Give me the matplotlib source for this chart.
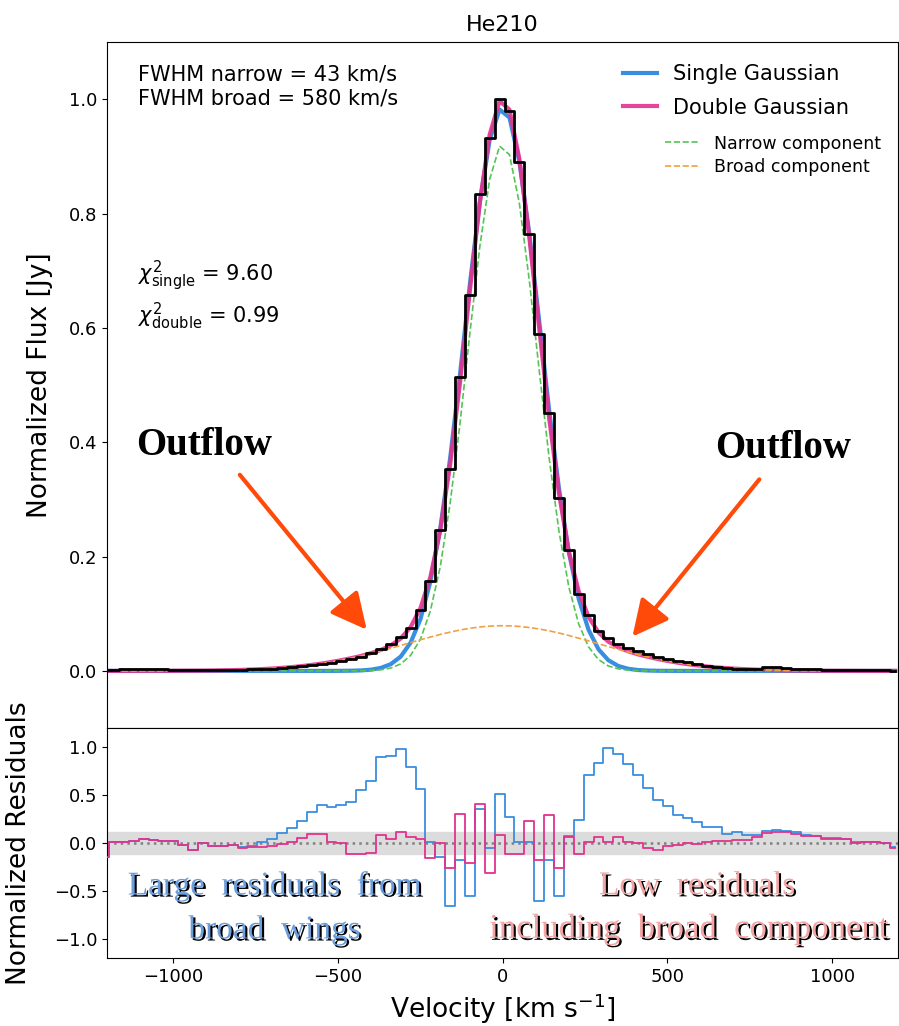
import numpy as np
import matplotlib
matplotlib.use("Agg")
import matplotlib.pyplot as plt
import matplotlib.patheffects as pe

# velocity bin centres (km/s), 30 km/s channels
vel = np.arange(-1209, 1192, 30)

# observed, normalized line profile
flux = [0.002, 0.002, 0.003, 0.003, 0.003, 0.003, 0.003, 0.002, 0.002, 0.001,
        0.002, 0.002, 0.002, 0.002, 0.002, 0.003, 0.003, 0.004, 0.005, 0.006,
        0.008, 0.010, 0.012, 0.014, 0.017, 0.021, 0.025, 0.031, 0.039, 0.047,
        0.060, 0.075, 0.107, 0.157, 0.247, 0.353, 0.514, 0.658, 0.835, 0.932,
        1.000, 0.979, 0.891, 0.764, 0.589, 0.451, 0.302, 0.212, 0.135, 0.097,
        0.070, 0.057, 0.047, 0.040, 0.034, 0.029, 0.025, 0.021, 0.018, 0.015,
        0.012, 0.009, 0.007, 0.005, 0.004, 0.003, 0.004, 0.006, 0.006, 0.005,
        0.004, 0.003, 0.003, 0.002, 0.002, 0.002, 0.001, 0.001, 0.001, 0.001,
        0.000]

# single gaussian fit, sampled on the bins
single = [0, 0, 0, 0, 0, 0, 0, 0, 0, 0,
          0, 0, 0, 0, 0, 0, 0, 0, 0, 0,
          0, 0, 0, 0, 0.0001, 0.0003, 0.0008, 0.0021, 0.0052, 0.0118,
          0.0250, 0.0493, 0.0906, 0.156, 0.249, 0.372, 0.519, 0.677, 0.820, 0.929,
          0.982, 0.968, 0.891, 0.766, 0.613, 0.458, 0.320, 0.208, 0.126, 0.0718,
          0.0378, 0.0187, 0.0086, 0.0037, 0.0015, 0.0006, 0.0002, 0.0001, 0, 0,
          0, 0, 0, 0, 0, 0, 0, 0, 0, 0,
          0, 0, 0, 0, 0, 0, 0, 0, 0, 0,
          0]

# narrow component of the double fit
narrow = [0, 0, 0, 0, 0, 0, 0, 0, 0, 0,
          0, 0, 0, 0, 0, 0, 0, 0, 0, 0,
          0, 0, 0, 0, 0, 0.0001, 0.0002, 0.0007, 0.0019, 0.0050,
          0.0121, 0.0270, 0.0554, 0.105, 0.182, 0.293, 0.433, 0.591, 0.742, 0.860,
          0.918, 0.903, 0.818, 0.684, 0.527, 0.374, 0.245, 0.147, 0.082, 0.0419,
          0.0198, 0.0086, 0.0035, 0.0013, 0.0004, 0.0001, 0, 0, 0, 0,
          0, 0, 0, 0, 0, 0, 0, 0, 0, 0,
          0, 0, 0, 0, 0, 0, 0, 0, 0, 0,
          0]

# broad component of the double fit
broad = [0.0000, 0.0000, 0.0000, 0.0000, 0.0001, 0.0001, 0.0001, 0.0002, 0.0003, 0.0004,
         0.0005, 0.0007, 0.0010, 0.0014, 0.0018, 0.0024, 0.0032, 0.0041, 0.0053, 0.0067,
         0.0084, 0.0105, 0.0128, 0.0156, 0.0187, 0.0222, 0.0260, 0.0303, 0.0348, 0.0395,
         0.0445, 0.0495, 0.0545, 0.0591, 0.0637, 0.0678, 0.0715, 0.0745, 0.0768, 0.0783,
         0.0790, 0.0788, 0.0778, 0.0759, 0.0733, 0.0701, 0.0663, 0.0619, 0.0572, 0.0525,
         0.0475, 0.0425, 0.0377, 0.0330, 0.0285, 0.0245, 0.0207, 0.0174, 0.0144, 0.0118,
         0.0096, 0.0077, 0.0061, 0.0048, 0.0037, 0.0029, 0.0022, 0.0017, 0.0012, 0.0009,
         0.0007, 0.0005, 0.0003, 0.0002, 0.0002, 0.0001, 0.0001, 0.0000, 0.0000, 0.0000,
         0.0000]

# normalized residuals
res_single = [-0.15, 0.015, 0.015, 0.025, 0.04, 0.03, 0.025, 0.02, -0.025, -0.07,
              0.0, -0.03, -0.03, -0.02, -0.04, -0.03, 0.01, 0.04, 0.10, 0.155,
              0.23, 0.32, 0.40, 0.375, 0.40, 0.43, 0.55, 0.65, 0.90, 0.91,
              0.98, 0.79, 0.56, 0.015, -0.15, -0.66, -0.18, -0.55, 0.36, -0.05,
              0.51, 0.27, 0.015, 0.015, -0.61, -0.18, -0.55, 0.07, 0.235, 0.71,
              0.83, 0.99, 0.93, 0.82, 0.71, 0.57, 0.445, 0.39, 0.295, 0.26,
              0.22, 0.165, 0.165, 0.095, 0.12, 0.085, 0.085, 0.13, 0.135, 0.13,
              0.11, 0.085, 0.075, 0.05, 0.05, 0.045, 0.01, 0.015, 0.015, 0.0,
              -0.045]
res_double = [-0.15, 0.015, 0.015, 0.025, 0.04, 0.03, 0.025, 0.02, -0.025, -0.07,
              0.0, -0.03, -0.03, -0.02, -0.05, -0.045, -0.045, -0.035, -0.01, 0.01,
              0.055, 0.09, 0.09, 0.01, 0.0, -0.11, -0.11, -0.10, 0.085, 0.04,
              0.12, 0.06, 0.045, -0.16, 0.0, -0.26, 0.30, -0.21, 0.41, -0.31,
              0.085, -0.11, -0.11, 0.225, -0.18, 0.295, -0.26, 0.06, -0.11, 0.015,
              0.065, 0.01, 0.065, 0.015, -0.005, -0.05, -0.07, -0.035, -0.02, 0.0,
              -0.01, 0.01, 0.02, 0.02, 0.035, 0.03, 0.06, 0.10, 0.12, 0.12,
              0.095, 0.075, 0.07, 0.045, 0.045, 0.04, 0.005, 0.01, 0.01, 0.0,
              -0.05]

double = np.array(narrow) + np.array(broad)

c_single = "#3a8ee0"
c_double = "#e3328c"
c_narrow = "#55c455"
c_broad = "#f0a040"
c_arrow = "#ff4a0a"

fig = plt.figure(figsize=(8.99, 10.26), dpi=100)
ax = fig.add_axes([0.119, 0.2904, 0.880, 0.6686])
axr = fig.add_axes([0.119, 0.0663, 0.880, 0.2241], sharex=ax)

# top panel
l1, = ax.plot(vel, single, color=c_single, lw=3, label="Single Gaussian", zorder=2)
l2, = ax.plot(vel, double, color=c_double, lw=3, alpha=0.9, label="Double Gaussian", zorder=2)
l3, = ax.plot(vel, narrow, color=c_narrow, lw=1.2, ls="--", label="Narrow component", zorder=3)
l4, = ax.plot(vel, broad, color=c_broad, lw=1.2, ls="--", label="Broad component", zorder=3)
ax.step(vel, flux, where="mid", color="k", lw=2, zorder=4)

ax.set_xlim(-1200, 1200)
ax.set_ylim(-0.1, 1.1)
ax.set_yticks([0.0, 0.2, 0.4, 0.6, 0.8, 1.0])
ax.tick_params(labelsize=13, labelbottom=False, bottom=False)
ax.set_title("He210", fontsize=16, pad=8)
ax.set_ylabel("Normalized Flux [Jy]", fontsize=19)
ax.yaxis.set_label_coords(-0.068, 0.5)

leg1 = ax.legend(handles=[l1, l2], loc="upper right", bbox_to_anchor=(0.962, 0.995),
                 frameon=False, fontsize=15, handlelength=1.6, labelspacing=0.65)
ax.add_artist(leg1)
ax.legend(handles=[l3, l4], loc="upper right", bbox_to_anchor=(0.998, 0.888),
          frameon=False, fontsize=12.5, handlelength=2.0, labelspacing=0.3)

ax.text(0.039, 0.968, "FWHM narrow = 43 km/s\nFWHM broad = 580 km/s",
        transform=ax.transAxes, fontsize=15, va="top", ha="left", linespacing=1.3)
ax.text(0.039, 0.659, r"$\chi^2_{\rm single}$ = 9.60", transform=ax.transAxes,
        fontsize=15, va="center", ha="left")
ax.text(0.039, 0.6, r"$\chi^2_{\rm double}$ = 0.99", transform=ax.transAxes,
        fontsize=15, va="center", ha="left")

# outflow arrows
ax.text(0.123, 0.4125, "Outflow", transform=ax.transAxes, fontsize=28,
        fontweight="bold", family="Liberation Serif", ha="center", va="center")
ax.text(0.855, 0.407, "Outflow", transform=ax.transAxes, fontsize=28,
        fontweight="bold", family="Liberation Serif", ha="center", va="center")
arrow = dict(arrowstyle="-|>", color=c_arrow, lw=3, mutation_scale=55,
             shrinkA=0, shrinkB=0)
ax.annotate("", xy=(-412, 0.072), xytext=(-797, 0.343), arrowprops=arrow, zorder=5)
ax.annotate("", xy=(394, 0.060), xytext=(779, 0.335), arrowprops=arrow, zorder=5)

# residual panel
axr.axhspan(-0.11, 0.11, color="#dcdcdc", zorder=0)
axr.axhline(0, color="gray", ls=":", lw=1.8, zorder=1)
axr.step(vel, res_single, where="mid", color=c_single, lw=1.3, zorder=2)
axr.step(vel, res_double, where="mid", color=c_double, lw=1.3, zorder=3)
axr.set_ylim(-1.2, 1.2)
axr.set_yticks([-1.0, -0.5, 0.0, 0.5, 1.0])
axr.set_xticks([-1000, -500, 0, 500, 1000])
axr.tick_params(labelsize=13)
axr.set_xlabel(r"Velocity [km s$^{-1}$]", fontsize=19)
axr.set_ylabel("Normalized Residuals", fontsize=19)
axr.yaxis.set_label_coords(-0.095, 0.5)

shadow = [pe.withSimplePatchShadow(offset=(1.5, -1.5), shadow_rgbFace="k", alpha=1)]
axr.text(0.212, 0.313, "Large  residuals  from", transform=axr.transAxes,
         fontsize=24, family="Liberation Serif", color="#6b9edb",
         ha="center", va="center", path_effects=shadow)
axr.text(0.212, 0.122, "broad  wings", transform=axr.transAxes,
         fontsize=24, family="Liberation Serif", color="#6b9edb",
         ha="center", va="center", path_effects=shadow)
axr.text(0.746, 0.313, "Low  residuals", transform=axr.transAxes,
         fontsize=24, family="Liberation Serif", color="#f3a4a4",
         ha="center", va="center", path_effects=shadow)
axr.text(0.736, 0.126, "including  broad  component", transform=axr.transAxes,
         fontsize=25, family="Liberation Serif", color="#f3a4a4",
         ha="center", va="center", path_effects=shadow)

fig.savefig("out.png", dpi=100)
